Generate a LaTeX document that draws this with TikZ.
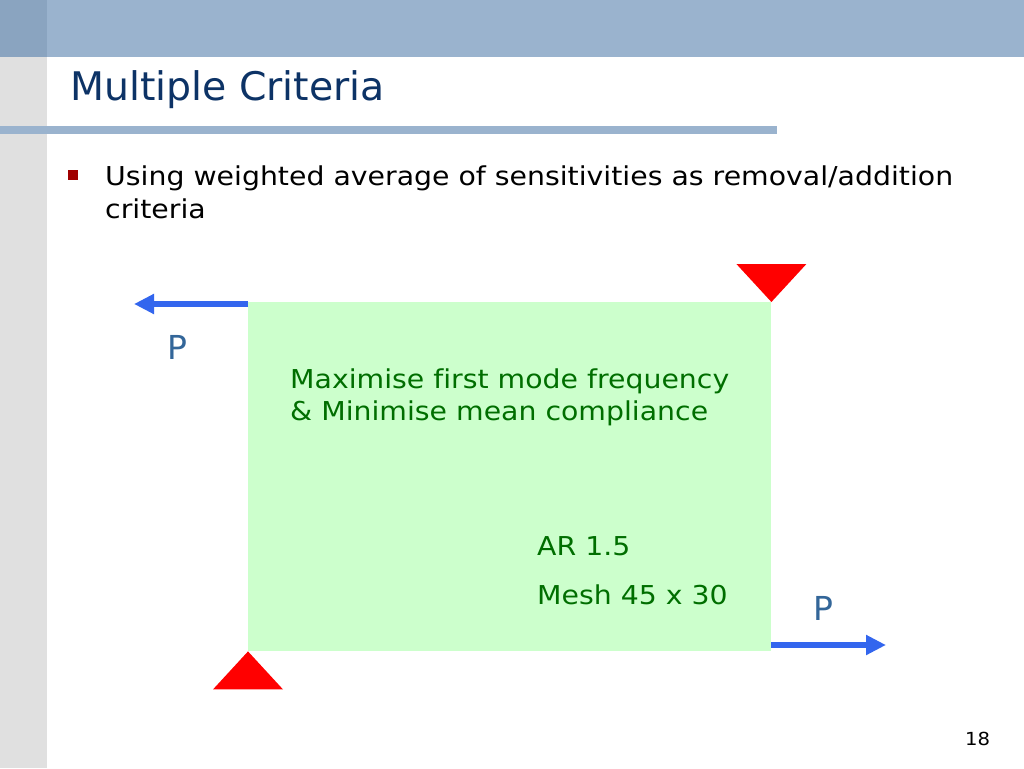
\documentclass[tikz,border=0pt]{standalone}
\usepackage{fontspec}
\setmainfont{DejaVu Sans}[Ligatures=NoCommon]
\newfontfamily\bodyfont{DejaVu Sans}[FakeStretch=1.09,Ligatures=NoCommon]
\usetikzlibrary{arrows.meta}
\definecolor{barblue}{HTML}{9AB3CE}
\definecolor{bardark}{HTML}{8AA4C0}
\definecolor{strip}{HTML}{E0E0E0}
\definecolor{titleblue}{HTML}{0D3366}
\definecolor{bulletred}{HTML}{A00000}
\definecolor{plategreen}{HTML}{CCFFCC}
\definecolor{textgreen}{HTML}{006E00}
\definecolor{arrowblue}{HTML}{3366EE}
\definecolor{pblue}{HTML}{336699}
\tikzset{
  txt/.style={anchor=base west, inner sep=0pt, font=\bodyfont\fontsize{26}{30}\selectfont},
  greentxt/.style={txt, text=textgreen},
  ptxt/.style={txt, text=pblue, font=\fontsize{33}{36}\selectfont},
  load/.style={line width=6pt, draw=arrowblue, -{Triangle[length=20pt,width=19pt]}},
  support/.style={fill=red},
}
\begin{document}
\begin{tikzpicture}[x=1pt,y=-1pt]
\useasboundingbox (0,0) rectangle (1024,768);
\fill[white] (0,0) rectangle (1024,768);
% frame
\fill[strip] (0,57) rectangle (47,768);
\fill[barblue] (0,0) rectangle (1024,57);
\fill[bardark] (0,0) rectangle (47,57);
\fill[barblue] (0,126) rectangle (777,134);
% title
\node[txt, text=titleblue, font=\fontsize{39.4}{44}\selectfont] (title) at (70,100) {Multiple Criteria};
% bullet
\fill[bulletred] (68,170) rectangle (78,180);
\node[txt, text=black] (b1) at (105,185) {Using weighted average of sensitivities as removal/addition};
\node[txt, text=black] (b2) at (105,218) {criteria};
% plate
\node[fill=plategreen, inner sep=0pt, minimum width=523pt, minimum height=349pt, anchor=north west] (plate) at (248,302) {};
% supports
\fill[support] (plate.north east) -- ++(-35,-38) -- ++(70,0) -- cycle;
\fill[support] (plate.south west) -- ++(-35,38) -- ++(70,0) -- cycle;
% loads
\coordinate (l1end) at (134,302);
\coordinate (l2start) at (771,645);
\coordinate (l2end) at (886,645);
\draw[load] ([yshift=-2pt]plate.north west) -- ([yshift=-2pt]l1end);
\draw[load] (l2start) -- (l2end);
\node[ptxt] (p1) at (167,359) {P};
\node[ptxt] (p2) at (813,620) {P};
% texts
\node[greentxt] (t1) at (290,388) {Maximise first mode frequency};
\node[greentxt] (t2) at (290,420) {\& Minimise mean compliance};
\node[greentxt] (t3) at (537,555) {AR 1.5};
\node[greentxt] (t4) at (537,604) {Mesh 45 x 30};
\node[txt, text=black, font=\bodyfont\fontsize{18}{20}\selectfont] (pg) at (965,745) {18};
\end{tikzpicture}
\end{document}
